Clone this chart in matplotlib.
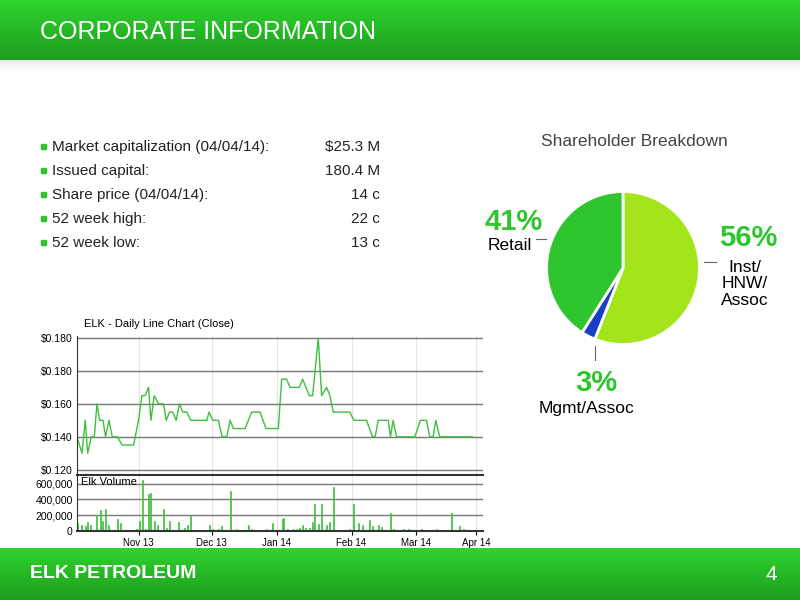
import numpy as np
import matplotlib
matplotlib.use("Agg")
import matplotlib.pyplot as plt
from matplotlib.patches import Rectangle

plt.rcParams['font.family'] = ['Liberation Sans', 'DejaVu Sans']

# bullet list
info_labels = ["Market capitalization (04/04/14):", "Issued capital:", "Share price (04/04/14):",
               "52 week high:", "52 week low:"]
info_values = ["$25.3 M", "180.4 M", "14 c", "22 c", "13 c"]

# pie
pie_labels = ["Inst/\nHNW/\nAssoc", "Mgmt/Assoc", "Retail"]
pie_values = [56, 3, 41]
pie_colors = ["#a3e51a", "#1a3fc4", "#2ec52e"]

# price chart (x in chart units, roughly trading days * 9)
price_x = [140, 155, 165, 172, 183, 192, 200, 208, 218, 226, 236, 246, 262, 275, 310, 325, 335, 345,
           355, 362, 372, 385, 400, 408, 418, 428, 438, 448, 458, 470, 482, 530, 537, 548, 565, 576,
           590, 600, 610, 645, 665, 690, 708, 745, 755, 770, 780, 808, 818, 838, 848, 865, 875, 890,
           900, 910, 960, 972, 1010, 1028, 1036, 1045, 1075, 1082, 1090, 1100, 1155, 1172, 1190,
           1200, 1210, 1218, 1230, 1328]
price_y = [0.140, 0.130, 0.150, 0.130, 0.140, 0.140, 0.160, 0.150, 0.150, 0.140, 0.150, 0.140, 0.140,
           0.135, 0.135, 0.150, 0.165, 0.165, 0.170, 0.150, 0.165, 0.160, 0.160, 0.150, 0.155, 0.155,
           0.150, 0.160, 0.155, 0.155, 0.150, 0.150, 0.155, 0.150, 0.150, 0.140, 0.140, 0.150, 0.145,
           0.145, 0.155, 0.155, 0.145, 0.145, 0.175, 0.175, 0.170, 0.170, 0.175, 0.165, 0.165, 0.200,
           0.165, 0.170, 0.165, 0.155, 0.155, 0.150, 0.150, 0.140, 0.140, 0.150, 0.150, 0.140, 0.150,
           0.140, 0.140, 0.150, 0.150, 0.140, 0.140, 0.150, 0.140, 0.140]
price_ticks = [0.120, 0.140, 0.160, 0.180, 0.200]
price_tick_labels = ["$0.120", "$0.140", "$0.160", "$0.180", "$0.180"]

vol_x = [142, 155, 165, 172, 182, 200, 210, 218, 226, 236, 262, 272, 318, 328, 336, 345, 355, 362,
         372, 382, 400, 410, 418, 446, 462, 472, 482, 538, 548, 565, 575, 600, 618, 655, 665, 710,
         728, 758, 762, 772, 790, 800, 808, 818, 828, 838, 848, 855, 865, 875, 890, 900, 910, 960,
         972, 985, 997, 1018, 1028, 1045, 1055, 1082, 1090, 1120, 1135, 1175, 1220, 1265, 1290, 1300]
vol_y = [100, 80, 60, 120, 80, 200, 260, 130, 280, 70, 150, 100, 20, 130, 640, 30, 470, 480, 130, 80,
         280, 40, 130, 110, 40, 80, 190, 70, 30, 30, 60, 510, 20, 80, 30, 30, 100, 150, 160, 30, 30,
         30, 40, 80, 40, 40, 120, 340, 90, 340, 80, 110, 550, 20, 340, 100, 80, 140, 60, 70, 50, 230,
         30, 20, 20, 20, 30, 230, 60, 30]
vol_y = [v * 1000 for v in vol_y]

month_pos = [325, 545, 740, 965, 1160, 1340]
month_labels = ["Nov 13", "Dec 13", "Jan 14", "Feb 14", "Mar 14", "Apr 14"]

W, H = 800, 600
fig = plt.figure(figsize=(8, 6), dpi=100)
bg = fig.add_axes([0, 0, 1, 1])
bg.axis("off")

# header / footer gradients
grad = np.linspace(0, 1, 100).reshape(-1, 1)
hdr = matplotlib.colors.LinearSegmentedColormap.from_list("h", ["#2fd32f", "#1e9e1e"])
bg.imshow(grad, cmap=hdr, extent=[0, W, 60, 0], aspect="auto")
bg.imshow(grad, cmap=hdr, extent=[0, W, 600, 548], aspect="auto")
bg.imshow(np.linspace(1, 0, 20).reshape(-1, 1), cmap="Greys", vmin=0, vmax=6,
          extent=[0, W, 72, 60], aspect="auto")
bg.set_xlim(0, W)
bg.set_ylim(H, 0)
bg.text(40, 32, "CORPORATE INFORMATION", color="white", fontsize=18, va="center")
bg.text(30, 574, "ELK PETROLEUM", color="white", fontsize=14, fontweight="bold", va="center")
bg.text(765, 575, "4", color="white", fontsize=15, va="center")

for i, (lab, val) in enumerate(zip(info_labels, info_values)):
    y = 147 + i * 24
    bg.add_patch(Rectangle((41, y - 3), 5, 5, color="#2ec52e"))
    bg.text(52, y, lab, fontsize=11, va="center", color="#222222")
    bg.text(380, y, val, fontsize=11, va="center", ha="right", color="#222222")

# pie
pax = fig.add_axes([(623 - 78) / W, 1 - (268 + 78) / H, 156 / W, 156 / H])
pax.pie(pie_values, colors=pie_colors, startangle=90, counterclock=False,
        wedgeprops=dict(edgecolor="white", linewidth=2))
pax.set_xlim(-1.02, 1.02)
pax.set_ylim(-1.02, 1.02)
pax.set_aspect("equal")
bg.text(634, 141, "Shareholder Breakdown", fontsize=12.5, ha="center", va="center",
        color="#444444")
bg.text(514, 222, "41%", fontsize=21, fontweight="bold", color="#2ec52e", ha="center", va="center")
bg.text(510, 246, "Retail", fontsize=12.5, ha="center", va="center")
bg.plot([536, 546], [239, 239], color="#666666", lw=0.8)
bg.text(748, 238, "56%", fontsize=21, fontweight="bold", color="#2ec52e", ha="center", va="center")
bg.text(745, 284, "Inst/\nHNW/\nAssoc", fontsize=12.5, ha="center", va="center", linespacing=1.1)
bg.plot([704, 716], [262, 262], color="#666666", lw=0.8)
bg.text(596, 383, "3%", fontsize=21, fontweight="bold", color="#2ec52e", ha="center", va="center")
bg.text(586, 409, "Mgmt/Assoc", fontsize=12.5, ha="center", va="center")
bg.plot([595, 595], [346, 360], color="#666666", lw=0.8)

# price chart
ax = fig.add_axes([77 / W, 1 - 475 / H, 406 / W, 139 / H])
ax.plot(price_x, price_y, color="#3dbf3d", lw=1)
ax.set_xlim(140, 1360)
ax.set_ylim(0.1168, 0.2012)
ax.set_yticks(price_ticks)
ax.set_yticklabels(price_tick_labels)
ax.grid(axis="y", color="#777777", lw=1)
ax.grid(axis="x", color="#e4e4e4", lw=0.8)
ax.set_axisbelow(True)
ax.set_xticks(month_pos)
ax.tick_params(axis="x", length=0, labelbottom=False)
ax.tick_params(axis="y", labelsize=7.5, length=0, pad=3)
for s in ["top", "right"]:
    ax.spines[s].set_visible(False)
ax.spines["left"].set_color("#333333")
ax.spines["bottom"].set_color("#333333")
ax.spines["bottom"].set_linewidth(1.5)
bg.text(84, 324, "ELK - Daily Line Chart (Close)", fontsize=8, va="center")

vax = fig.add_axes([77 / W, 1 - 531 / H, 406 / W, 55 / H])
vax.bar(vol_x, vol_y, width=3, color="#3dbf3d", edgecolor="#3dbf3d", linewidth=0.5)
vax.set_xlim(140, 1360)
vax.set_ylim(0, 695000)
vax.set_yticks([0, 200000, 400000, 600000])
vax.set_yticklabels(["0", "200,000", "400,000", "600,000"])
vax.grid(axis="y", color="#777777", lw=1)
vax.grid(axis="x", color="#e4e4e4", lw=0.8)
vax.set_axisbelow(True)
vax.set_xticks(month_pos)
vax.set_xticklabels(month_labels)
vax.tick_params(axis="x", labelsize=7, length=3, pad=2)
vax.tick_params(axis="y", labelsize=7.5, length=0, pad=3)
for s in ["top", "right"]:
    vax.spines[s].set_visible(False)
vax.spines["left"].set_color("#333333")
vax.spines["bottom"].set_color("#333333")
vax.spines["bottom"].set_linewidth(1.5)
vax.text(0.01, 0.98, "Elk Volume", transform=vax.transAxes, fontsize=8, va="top")

fig.savefig("out.png", dpi=100, facecolor="white")
